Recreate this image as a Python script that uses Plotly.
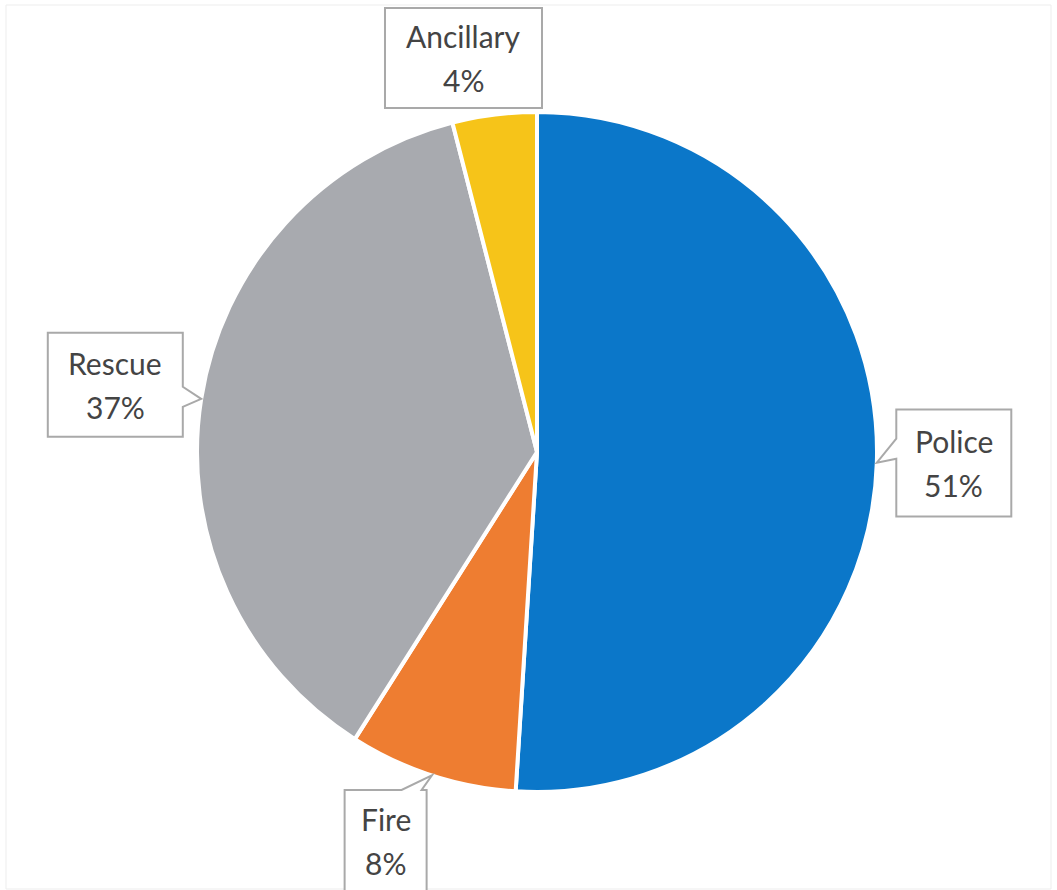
import math
import plotly.graph_objects as go

# ---- data ----
categories = ["Police", "Fire", "Rescue", "Ancillary"]
values = [51, 8, 37, 4]
colors = ["#0B77C9", "#EE7D31", "#A8AAAF", "#F6C419"]

# ---- layout / style ----
W, H = 1057, 890
CX, CY, R = 537, 452, 340          # pie centre and radius in pixels
label_dist = [417, 409, 430, 395]   # radial distance of label centres
label_nudge = [(0, -2), (-25, 0), (3, 0), (-24, -2)]
box_size = [(115, 107), (82, 102), (135, 104), (157, 100)]
pointer_shift = [-14, -14, -2, 0]   # shift of pointer base along the box side
LINE_GAP = 22
FONT = "Lato"
TEXT_COLOR = "#444444"
BOX_COLOR = "#A9A9A9"


def px(x):
    return x / W


def py(y):
    return 1 - y / H


fig = go.Figure()
fig.add_trace(go.Pie(
    labels=categories,
    values=values,
    sort=False,
    direction="clockwise",
    rotation=0,
    marker=dict(colors=colors, line=dict(color="white", width=4)),
    textinfo="none",
    hoverinfo="label+percent",
    showlegend=False,
    domain=dict(x=[px(CX - R), px(CX + R)], y=[py(CY + R), py(CY - R)]),
))

total = sum(values)
shapes = []
annotations = []
cum = 0.0
for i, (cat, v) in enumerate(zip(categories, values)):
    frac = v / total
    mid = (cum + frac / 2) * 2 * math.pi  # clockwise from 12 o'clock
    cum += frac
    sx, sy = math.sin(mid), -math.cos(mid)
    lx = CX + label_dist[i] * sx + label_nudge[i][0]
    ly = CY + label_dist[i] * sy + label_nudge[i][1]
    tipx, tipy = CX + R * sx, CY + R * sy
    bw, bh = box_size[i]
    L, Rt, T, B = lx - bw / 2, lx + bw / 2, ly - bh / 2, ly + bh / 2

    over = {
        "left": L - tipx,
        "right": tipx - Rt,
        "top": T - tipy,
        "bottom": tipy - B,
    }
    side = max(over, key=over.get)
    if over[side] < 10:
        side = None
    hw = 10
    sh = pointer_shift[i]

    def clamp(v, a, b):
        return max(a, min(b, v))

    pts = [(L, T)]
    if side == "top":
        c = clamp(tipx + sh, L + 15, Rt - 15)
        pts += [(c - hw, T), (tipx, tipy), (c + hw, T)]
    pts.append((Rt, T))
    if side == "right":
        c = clamp(tipy + sh, T + 15, B - 15)
        pts += [(Rt, c - hw), (tipx, tipy), (Rt, c + hw)]
    pts.append((Rt, B))
    if side == "bottom":
        c = clamp(tipx + sh, L + 15, Rt - 15)
        pts += [(c + hw, B), (tipx, tipy), (c - hw, B)]
    pts.append((L, B))
    if side == "left":
        c = clamp(tipy + sh, T + 15, B - 15)
        pts += [(L, c + hw), (tipx, tipy), (L, c - hw)]

    path = "M " + " L ".join(f"{px(x):.5f},{py(y):.5f}" for x, y in pts) + " Z"
    shapes.append(dict(type="path", xref="paper", yref="paper", path=path,
                       fillcolor="white", line=dict(color=BOX_COLOR, width=2),
                       layer="above"))

    pct = f"{round(frac * 100)}%"
    for txt, dy in ((cat, -LINE_GAP), (pct, LINE_GAP)):
        annotations.append(dict(
            x=px(lx), y=py(ly + dy), xref="paper", yref="paper",
            text=txt, showarrow=False, xanchor="center", yanchor="middle",
            font=dict(family=FONT, size=30, color=TEXT_COLOR),
        ))

# faint outer frame
shapes.insert(0, dict(type="rect", xref="paper", yref="paper",
                      x0=px(6), x1=px(1051), y0=py(889), y1=py(5),
                      line=dict(color="#EDEDED", width=1), layer="below"))

fig.update_layout(
    width=W, height=H,
    margin=dict(l=0, r=0, t=0, b=0),
    paper_bgcolor="white",
    plot_bgcolor="white",
    shapes=shapes,
    annotations=annotations,
)

fig.write_html("out.html")
